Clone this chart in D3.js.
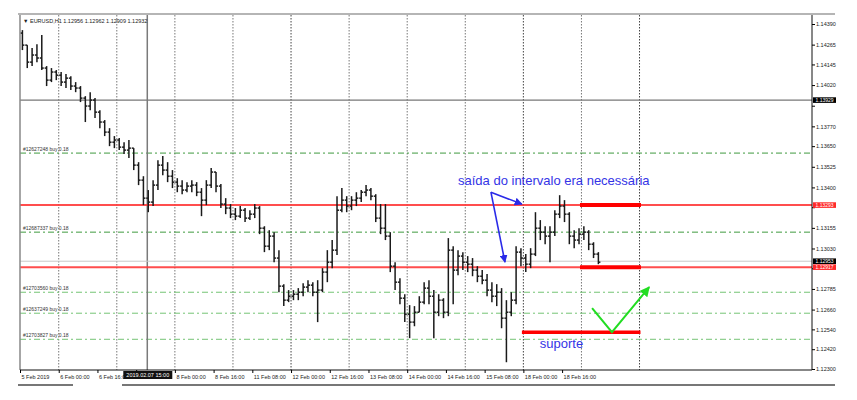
<!DOCTYPE html>
<html>
<head>
<meta charset="utf-8">
<script src="https://cdn.jsdelivr.net/npm/d3@7"></script>
<style>
  body { margin: 0; background: #fff; }
  #container { width: 857px; height: 400px; }
  text { font-family: "Liberation Sans", Arial, sans-serif; }
</style>
</head>
<body>
<div id="container"></div>
<script>
// EURUSD bars (2h bars, 5 Feb 08:00 -> 19 Feb)
const opens = [
  1.14335, 1.14262, 1.14159, 1.14202, 1.14184, 1.14123, 1.14050, 1.14099, 1.14080, 1.14038,
  1.14062, 1.14014, 1.14002, 1.13941, 1.13893, 1.13929, 1.13856, 1.13796, 1.13735, 1.13674,
  1.13687, 1.13644, 1.13626, 1.13638, 1.13535, 1.13444, 1.13335, 1.13311, 1.13414, 1.13535,
  1.13505, 1.13468, 1.13432, 1.13408, 1.13384, 1.13408, 1.13414, 1.13371, 1.13323, 1.13414,
  1.13493, 1.13408, 1.13299, 1.13275, 1.13238, 1.13226, 1.13262, 1.13214, 1.13238, 1.13275,
  1.13153, 1.13044, 1.13105, 1.12972, 1.12802, 1.12717, 1.12741, 1.12753, 1.12765, 1.12796,
  1.12808, 1.12765, 1.12778, 1.12887, 1.12947, 1.13020, 1.13262, 1.13323, 1.13287, 1.13323,
  1.13335, 1.13371, 1.13384, 1.13347, 1.13214, 1.13153, 1.13105, 1.12923, 1.12826, 1.12729,
  1.12632, 1.12584, 1.12644, 1.12705, 1.12790, 1.12741, 1.12644, 1.12717, 1.12644, 1.13020,
  1.12899, 1.12984, 1.12947, 1.12935, 1.12899, 1.12862, 1.12838, 1.12778, 1.12741, 1.12765,
  1.12608, 1.12644, 1.12717, 1.13008, 1.12972, 1.12935, 1.12996, 1.13153, 1.13129, 1.13105,
  1.13129, 1.13238, 1.13287, 1.13238, 1.13105, 1.13081, 1.13117, 1.13129, 1.13056, 1.12996
];
const highs = [
  1.14353, 1.14262, 1.14244, 1.14268, 1.14323, 1.14135, 1.14123, 1.14111, 1.14099, 1.14087,
  1.14074, 1.14038, 1.14014, 1.13953, 1.13977, 1.13941, 1.13868, 1.13808, 1.13759, 1.13711,
  1.13699, 1.13674, 1.13687, 1.13638, 1.13553, 1.13468, 1.13384, 1.13444, 1.13565, 1.13590,
  1.13553, 1.13505, 1.13456, 1.13444, 1.13432, 1.13444, 1.13432, 1.13396, 1.13444, 1.13517,
  1.13493, 1.13420, 1.13335, 1.13299, 1.13275, 1.13287, 1.13275, 1.13262, 1.13299, 1.13287,
  1.13165, 1.13141, 1.13129, 1.13020, 1.12814, 1.12778, 1.12778, 1.12790, 1.12820, 1.12838,
  1.12826, 1.12838, 1.12911, 1.13020, 1.13081, 1.13347, 1.13396, 1.13347, 1.13347, 1.13371,
  1.13384, 1.13414, 1.13396, 1.13359, 1.13299, 1.13299, 1.13129, 1.12947, 1.12850, 1.12753,
  1.12687, 1.12681, 1.12741, 1.12826, 1.12838, 1.12778, 1.12753, 1.12729, 1.13093, 1.13044,
  1.13020, 1.13008, 1.12984, 1.12972, 1.12923, 1.12899, 1.12875, 1.12826, 1.12814, 1.12790,
  1.12717, 1.12765, 1.13044, 1.13032, 1.12996, 1.13032, 1.13250, 1.13202, 1.13165, 1.13165,
  1.13262, 1.13353, 1.13323, 1.13250, 1.13141, 1.13153, 1.13165, 1.13141, 1.13068, 1.13008
];
const lows = [
  1.14232, 1.14123, 1.14135, 1.14159, 1.14111, 1.14014, 1.14038, 1.14050, 1.14014, 1.14002,
  1.13990, 1.13977, 1.13917, 1.13796, 1.13868, 1.13820, 1.13759, 1.13711, 1.13650, 1.13638,
  1.13626, 1.13602, 1.13578, 1.13505, 1.13414, 1.13293, 1.13250, 1.13287, 1.13384, 1.13474,
  1.13432, 1.13396, 1.13371, 1.13359, 1.13371, 1.13371, 1.13347, 1.13226, 1.13293, 1.13396,
  1.13371, 1.13275, 1.13238, 1.13214, 1.13202, 1.13214, 1.13190, 1.13202, 1.13214, 1.13117,
  1.13008, 1.13020, 1.12947, 1.12765, 1.12681, 1.12705, 1.12717, 1.12717, 1.12741, 1.12765,
  1.12741, 1.12584, 1.12765, 1.12826, 1.12911, 1.12990, 1.13250, 1.13250, 1.13262, 1.13287,
  1.13311, 1.13347, 1.13323, 1.13190, 1.13117, 1.13081, 1.12887, 1.12778, 1.12693, 1.12584,
  1.12487, 1.12559, 1.12644, 1.12693, 1.12693, 1.12487, 1.12620, 1.12608, 1.12620, 1.12693,
  1.12868, 1.12899, 1.12887, 1.12862, 1.12826, 1.12814, 1.12741, 1.12705, 1.12681, 1.12547,
  1.12341, 1.12620, 1.12693, 1.12923, 1.12887, 1.12911, 1.12984, 1.13081, 1.13056, 1.12947,
  1.13105, 1.13214, 1.13190, 1.13056, 1.13032, 1.13056, 1.13081, 1.13020, 1.12972, 1.12935
];
const closes = [
  1.14262, 1.14159, 1.14202, 1.14184, 1.14123, 1.14050, 1.14099, 1.14080, 1.14038, 1.14062,
  1.14014, 1.14002, 1.13941, 1.13893, 1.13929, 1.13856, 1.13796, 1.13735, 1.13674, 1.13687,
  1.13644, 1.13626, 1.13638, 1.13535, 1.13444, 1.13335, 1.13311, 1.13414, 1.13535, 1.13505,
  1.13468, 1.13432, 1.13408, 1.13384, 1.13408, 1.13414, 1.13371, 1.13323, 1.13414, 1.13493,
  1.13408, 1.13299, 1.13275, 1.13238, 1.13226, 1.13262, 1.13214, 1.13238, 1.13275, 1.13153,
  1.13044, 1.13105, 1.12972, 1.12802, 1.12717, 1.12741, 1.12753, 1.12765, 1.12796, 1.12808,
  1.12765, 1.12778, 1.12887, 1.12947, 1.13020, 1.13262, 1.13323, 1.13287, 1.13323, 1.13335,
  1.13371, 1.13384, 1.13347, 1.13214, 1.13153, 1.13105, 1.12923, 1.12826, 1.12729, 1.12632,
  1.12584, 1.12644, 1.12705, 1.12790, 1.12741, 1.12644, 1.12717, 1.12644, 1.13020, 1.12899,
  1.12984, 1.12947, 1.12935, 1.12899, 1.12862, 1.12838, 1.12778, 1.12741, 1.12765, 1.12608,
  1.12644, 1.12717, 1.13008, 1.12972, 1.12935, 1.12996, 1.13153, 1.13129, 1.13105, 1.13129,
  1.13238, 1.13287, 1.13238, 1.13105, 1.13081, 1.13117, 1.13129, 1.13056, 1.12996, 1.12947
];

const priceTicks = [1.14390, 1.14265, 1.14145, 1.14020, 1.13895, 1.13770, 1.13650, 1.13525, 1.13400,
  1.13280, 1.13155, 1.13030, 1.12910, 1.12785, 1.12660, 1.12540, 1.12420, 1.12300];
const timeTickIdx = [0, 8, 16, 24, 32, 40, 48, 56, 64, 72, 80, 88, 96, 104, 112];
const timeTickLabels = ['5 Feb 2019', '6 Feb 00:00', '6 Feb 16:00', '7 Feb 08:00', '8 Feb 00:00',
  '8 Feb 16:00', '11 Feb 08:00', '12 Feb 00:00', '12 Feb 16:00', '13 Feb 08:00', '14 Feb 00:00',
  '14 Feb 16:00', '15 Feb 08:00', '18 Feb 00:00', '18 Feb 16:00'];
const gridIdx = [8, 20, 32, 44, 56, 68, 80, 92, 104, 116, 128];
const header = '\u25BC EURUSD,H1  1.12956 1.12962 1.12909 1.12932';

// levels and drawings on the chart
const grayLevel = 1.13929;
const bidLevel = 1.12953;
const redLevels = [1.13293, 1.12917];
const orderLevels = [1.13608, 1.13129, 1.12765, 1.12638, 1.12480];
const orderLabels = ['#12627248 buy 0.18', '#12687337 buy 0.18', '#12703560 buy 0.18',
  '#12637249 buy 0.18', '#12703827 buy 0.18'];
const crossIdx = 26.3;
const crossLabel = '2019.02.07 15:00';
const zoneIdx = [115.7, 128.3];
const supportIdx = [103.7, 128.2];
const supportLevel = 1.12523;
const checkIdx = [118.2, 122.3, 130];
const checkPrice = [1.12669, 1.12523, 1.12796];
const arrowFrom = [97.3, 1.13371];
const arrowTo = [[103.7, 1.13299], [100.2, 1.12947]];
const noteText = 'saída do intervalo era necessária';
const notePos = [90.5, 1.13414];
const supportText = 'suporte';
const supportTextPos = [107.4, 1.12427];

const W = 857; const H = 400;
const pLeft = 20; const pRight = 812; const pTop = 15; const pBottom = 370;
const step = 4.84;
const boxH = 5.6;

const svg = d3.select('#container').append('svg').attr('width', W).attr('height', H);

const x = d3.scaleLinear().domain([0, 130]).range([pLeft, pLeft + 130 * step]);
const y = d3.scaleLinear().domain([1.12300, 1.14390]).range([369, 24]);

const defs = svg.append('defs');
const mk = (id, color) => {
  defs.append('marker').attr('id', id).attr('viewBox', '0 0 10 10')
      .attr('refX', 9).attr('refY', 5).attr('markerWidth', 5).attr('markerHeight', 5)
      .attr('orient', 'auto')
      .append('path').attr('d', 'M0,0L10,5L0,10z').attr('fill', color);
};
mk('blueHead', '#2a2ae8');
mk('greenHead', '#22dd22');

// frame bits
svg.append('line').attr('x1', 18).attr('x2', 835).attr('y1', 14).attr('y2', 14)
    .attr('stroke', '#b5b5b5').attr('stroke-width', 2);
svg.append('line').attr('x1', 18).attr('x2', 73).attr('y1', 385).attr('y2', 385)
    .attr('stroke', '#777').attr('stroke-width', 2);
svg.append('line').attr('x1', 122).attr('x2', 835).attr('y1', 385).attr('y2', 385)
    .attr('stroke', '#777').attr('stroke-width', 2);

const plot = svg.append('g');

// vertical grid
plot.selectAll('.vgrid').data(gridIdx).enter().append('line')
    .attr('x1', (d) => x(d)).attr('x2', (d) => x(d))
    .attr('y1', pTop).attr('y2', pBottom)
    .attr('stroke', (d) => (d === 104 || d === 128 || d === 56) ? '#444' : '#777')
    .attr('stroke-width', 1).attr('stroke-dasharray', '1.5,1.5');

// order levels
plot.selectAll('.order').data(orderLevels).enter().append('line')
    .attr('x1', pLeft).attr('x2', pRight)
    .attr('y1', (d) => y(d)).attr('y2', (d) => y(d))
    .attr('stroke', (d, i) => i < 2 ? '#3f9a3f' : '#74c474')
    .attr('stroke-width', 1).attr('stroke-dasharray', '6,3,2,3');
plot.selectAll('.olab').data(orderLabels).enter().append('text')
    .attr('x', pLeft + 3).attr('y', (d, i) => y(orderLevels[i]) - 2)
    .attr('font-size', 5).attr('fill', '#333').text((d) => d);

// gray level and cross line
plot.append('line').attr('x1', pLeft).attr('x2', pRight)
    .attr('y1', y(grayLevel)).attr('y2', y(grayLevel))
    .attr('stroke', '#777').attr('stroke-width', 1.2);
plot.append('line').attr('x1', x(crossIdx)).attr('x2', x(crossIdx))
    .attr('y1', pTop).attr('y2', pBottom)
    .attr('stroke', '#7a7a7a').attr('stroke-width', 1.5);
plot.append('line').attr('x1', pLeft).attr('x2', pRight)
    .attr('y1', y(bidLevel)).attr('y2', y(bidLevel))
    .attr('stroke', '#c8c8c8').attr('stroke-width', 1);

// red range lines
plot.selectAll('.red').data(redLevels).enter().append('line')
    .attr('x1', pLeft).attr('x2', pRight)
    .attr('y1', (d) => y(d)).attr('y2', (d) => y(d))
    .attr('stroke', '#ff3a3a').attr('stroke-width', 2).attr('opacity', 0.9);

// OHLC bars
const bars = plot.append('g').attr('stroke', '#1a1a1a').attr('stroke-width', 1.5);
closes.forEach((c, i) => {
  const cx = x(i + 0.5);
  bars.append('line').attr('x1', cx).attr('x2', cx).attr('y1', y(highs[i])).attr('y2', y(lows[i]));
  bars.append('line').attr('x1', cx - 2).attr('x2', cx).attr('y1', y(opens[i])).attr('y2', y(opens[i]));
  bars.append('line').attr('x1', cx).attr('x2', cx + 2).attr('y1', y(c)).attr('y2', y(c));
});

// thick red zones
plot.selectAll('.zone').data(redLevels).enter().append('line')
    .attr('x1', x(zoneIdx[0])).attr('x2', x(zoneIdx[1]))
    .attr('y1', (d) => y(d)).attr('y2', (d) => y(d))
    .attr('stroke', '#ff0000').attr('stroke-width', 4);
plot.append('line')
    .attr('x1', x(supportIdx[0])).attr('x2', x(supportIdx[1]))
    .attr('y1', y(supportLevel)).attr('y2', y(supportLevel))
    .attr('stroke', '#ff0000').attr('stroke-width', 3.5);

// green check
plot.append('path')
    .attr('d', d3.line()(checkIdx.map((d, i) => [x(d), y(checkPrice[i])])))
    .attr('fill', 'none').attr('stroke', '#22dd22').attr('stroke-width', 2)
    .attr('marker-end', 'url(#greenHead)');

// blue arrows and notes
arrowTo.forEach((t) => {
  plot.append('line')
      .attr('x1', x(arrowFrom[0])).attr('y1', y(arrowFrom[1]))
      .attr('x2', x(t[0])).attr('y2', y(t[1]))
      .attr('stroke', '#2a2ae8').attr('stroke-width', 1.6)
      .attr('marker-end', 'url(#blueHead)');
});
plot.append('text').attr('x', x(notePos[0])).attr('y', y(notePos[1]))
    .attr('font-size', 13).attr('fill', '#3434e6').text(noteText);
plot.append('text').attr('x', x(supportTextPos[0])).attr('y', y(supportTextPos[1]))
    .attr('font-size', 13).attr('fill', '#3434e6').text(supportText);

// header
svg.append('text').attr('x', pLeft + 3).attr('y', 23).attr('font-size', 5.5)
    .attr('fill', '#222').text(header);

// left border
svg.append('line').attr('x1', pLeft).attr('x2', pLeft).attr('y1', pTop).attr('y2', pBottom)
    .attr('stroke', '#888').attr('stroke-width', 1.5);

// price boxes sit on top of the axis, so tick texts under them are not drawn
const boxes = [[grayLevel, '#000'], [redLevels[0], '#ff2a2a'], [bidLevel, '#000'], [redLevels[1], '#ff2a2a']];
const hiddenTick = (d) => boxes.some((b) => Math.abs(y(b[0]) - y(d)) < 6.5);

// right price axis
const yAxis = svg.append('g').attr('transform', 'translate(' + pRight + ',0)')
    .call(d3.axisRight(y).tickValues(priceTicks).tickSize(3)
        .tickFormat((d) => hiddenTick(d) ? '' : d3.format('.5f')(d)));
yAxis.select('.domain').attr('d', 'M0,' + pTop + 'V' + pBottom).attr('stroke', '#111');
yAxis.selectAll('text').attr('font-size', 5.5).attr('fill', '#222').attr('x', 4)
    .attr('font-family', '"Liberation Sans", Arial, sans-serif');

// bottom time axis; the tick hidden under the cross label is left without text
const xAxis = svg.append('g').attr('transform', 'translate(0,' + pBottom + ')')
    .call(d3.axisBottom(x).tickValues(timeTickIdx).tickSize(3)
        .tickFormat((d, i) => Math.abs(x(d) - x(crossIdx)) < 25 ? '' : timeTickLabels[i]));
xAxis.select('.domain').attr('d', 'M' + pLeft + ',0H' + pRight).attr('stroke', '#111');
xAxis.selectAll('text').attr('font-size', 5.5).attr('fill', '#222')
    .attr('text-anchor', 'start').attr('dx', 1).attr('y', 5)
    .attr('font-family', '"Liberation Sans", Arial, sans-serif');

boxes.forEach((b) => {
  const g = svg.append('g').attr('transform', 'translate(' + (pRight + 1) + ',' + y(b[0]) + ')');
  g.append('rect').attr('x', 0).attr('y', -boxH / 2).attr('width', 23).attr('height', boxH).attr('fill', b[1]);
  g.append('text').attr('x', 2.5).attr('y', 1.8).attr('font-size', 5).attr('fill', '#fff')
      .text(d3.format('.5f')(b[0]));
});

// cross time label box
const cg = svg.append('g').attr('transform', 'translate(' + (x(crossIdx) - 24) + ',' + (pBottom + 1) + ')');
cg.append('rect').attr('width', 49).attr('height', 8).attr('fill', '#111');
cg.append('text').attr('x', 24.5).attr('y', 6).attr('text-anchor', 'middle')
    .attr('font-size', 5.5).attr('fill', '#fff').text(crossLabel);
</script>
</body>
</html>
